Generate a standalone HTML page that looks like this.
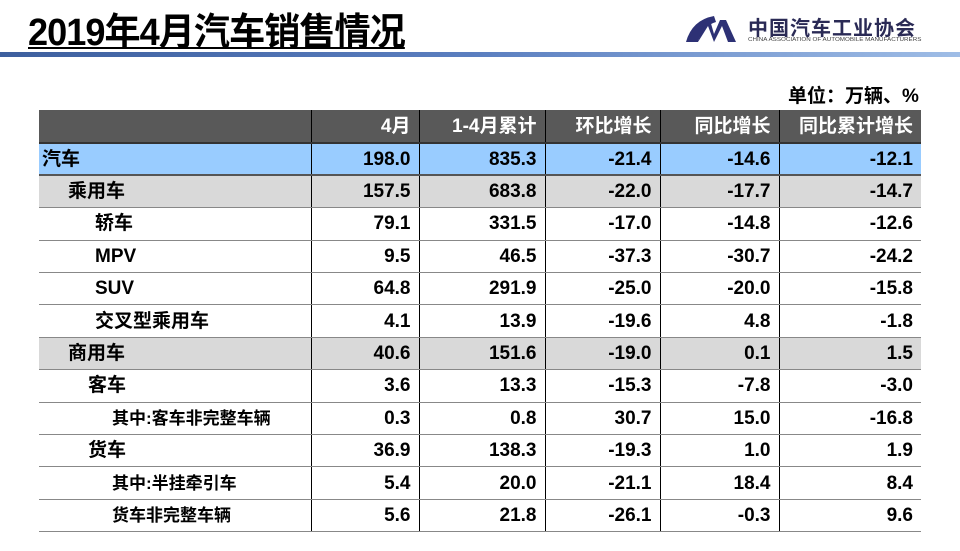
<!DOCTYPE html>
<html><head><meta charset="utf-8"><style>
body{margin:0;width:960px;height:551px;background:#fff;position:relative;overflow:hidden;font-family:"Liberation Sans","Noto Sans CJK SC",sans-serif;}
.title{position:absolute;left:28px;top:1px;font-size:38px;font-weight:bold;color:#000;text-decoration:underline;text-decoration-thickness:2px;text-underline-offset:2px;letter-spacing:-1px;transform:scaleX(0.95);transform-origin:left;white-space:nowrap;}
.bar{position:absolute;left:0;top:52px;width:960px;height:5px;background:linear-gradient(90deg,#3d5f9e,#5b7fc0 50%,#9fbde6);}
.logo{position:absolute;left:748px;top:12px;font-size:20px;font-weight:bold;color:#2a2a55;letter-spacing:1px;white-space:nowrap;}
.sub{position:absolute;left:748px;top:37px;font-size:5px;color:#444;white-space:nowrap;transform:scaleX(1.25);transform-origin:left;}
.unit{position:absolute;left:788px;top:81px;font-size:19px;font-weight:bold;white-space:nowrap;}
table{position:absolute;left:39px;top:110px;border-collapse:collapse;font-size:19px;font-weight:bold;}
td{height:32.4px;padding:0 8px 0 0;text-align:right;border-left:1.5px solid #000;border-bottom:1.5px solid #888;box-sizing:border-box;line-height:1;}
td:first-child{text-align:left;border-left:none;padding:0;}
tr.h td{background:#595959;color:#fff;height:33px;border-bottom:2px solid #333;}
tr.b td{background:#99ccff;border-bottom:2px solid #555;}
tr.g td{background:#d9d9d9;}
</style></head><body>
<div class="title">2019年4月汽车销售情况</div>
<svg style="position:absolute;left:684px;top:14px" width="62" height="32"><path d="M30 2 Q8 6 2 28 L14 28 Q18 12 32 8 Z" fill="#2d3175"/><path d="M14 28 L24 12 L30 28 L38 12 L44 28 L52 28 L42 6 L36 6 L30 20 L26 6 L20 6 Z" fill="#2d3175"/></svg>
<div class="logo">中国汽车工业协会</div>
<div class="sub">CHINA ASSOCIATION OF AUTOMOBILE MANUFACTURERS</div>
<div class="bar"></div>
<div class="unit">单位：万辆、%</div>
<table>
<colgroup><col style="width:272px"><col style="width:108px"><col style="width:126px"><col style="width:115px"><col style="width:119px"><col style="width:142px"></colgroup>
<tr class="h"><td></td><td>4月</td><td>1-4月累计</td><td>环比增长</td><td>同比增长</td><td>同比累计增长</td></tr>
<tr class="b"><td style="padding-left:3px">汽车</td><td>198.0</td><td>835.3</td><td>-21.4</td><td>-14.6</td><td>-12.1</td></tr>
<tr class="g"><td style="padding-left:29px">乘用车</td><td>157.5</td><td>683.8</td><td>-22.0</td><td>-17.7</td><td>-14.7</td></tr>
<tr><td style="padding-left:56px">轿车</td><td>79.1</td><td>331.5</td><td>-17.0</td><td>-14.8</td><td>-12.6</td></tr>
<tr><td style="padding-left:56px">MPV</td><td>9.5</td><td>46.5</td><td>-37.3</td><td>-30.7</td><td>-24.2</td></tr>
<tr><td style="padding-left:56px">SUV</td><td>64.8</td><td>291.9</td><td>-25.0</td><td>-20.0</td><td>-15.8</td></tr>
<tr><td style="padding-left:56px">交叉型乘用车</td><td>4.1</td><td>13.9</td><td>-19.6</td><td>4.8</td><td>-1.8</td></tr>
<tr class="g"><td style="padding-left:29px">商用车</td><td>40.6</td><td>151.6</td><td>-19.0</td><td>0.1</td><td>1.5</td></tr>
<tr><td style="padding-left:49px">客车</td><td>3.6</td><td>13.3</td><td>-15.3</td><td>-7.8</td><td>-3.0</td></tr>
<tr><td style="padding-left:73px;font-size:17px">其中:客车非完整车辆</td><td>0.3</td><td>0.8</td><td>30.7</td><td>15.0</td><td>-16.8</td></tr>
<tr><td style="padding-left:49px">货车</td><td>36.9</td><td>138.3</td><td>-19.3</td><td>1.0</td><td>1.9</td></tr>
<tr><td style="padding-left:73px;font-size:17px">其中:半挂牵引车</td><td>5.4</td><td>20.0</td><td>-21.1</td><td>18.4</td><td>8.4</td></tr>
<tr><td style="padding-left:73px;font-size:17px">货车非完整车辆</td><td>5.6</td><td>21.8</td><td>-26.1</td><td>-0.3</td><td>9.6</td></tr>
</table>
</body></html>
